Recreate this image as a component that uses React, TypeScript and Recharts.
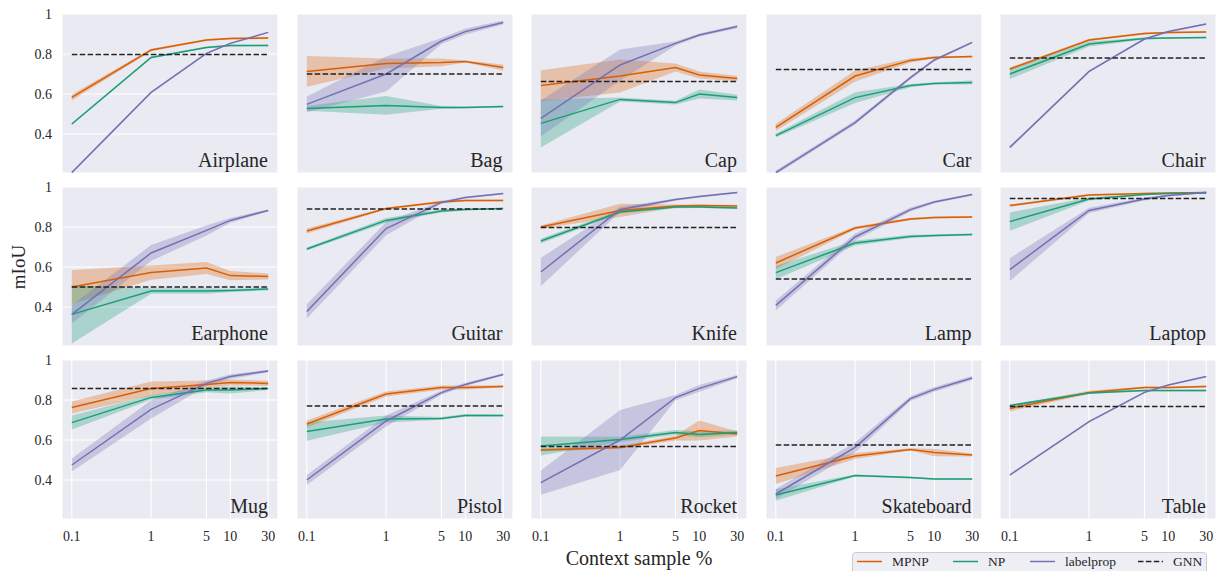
import React from "react";
import { ComposedChart, Line, Area, XAxis, YAxis, CartesianGrid } from "recharts";

const FONT = "'Liberation Serif', 'DejaVu Serif', serif";
const TEXT = "#262626";

const xs = [0.1, 1, 5, 10, 30];
const yTicks = [0.4, 0.6, 0.8, 1];

const categories = [
  "Airplane", "Bag", "Cap", "Car", "Chair",
  "Earphone", "Guitar", "Knife", "Lamp", "Laptop",
  "Mug", "Pistol", "Rocket", "Skateboard", "Table",
];

// mean mIoU per category at each context sample %
const mpnpMean = [
  [0.583, 0.82, 0.87, 0.878, 0.88],
  [0.713, 0.753, 0.758, 0.763, 0.733],
  [0.642, 0.69, 0.732, 0.695, 0.677],
  [0.433, 0.69, 0.768, 0.783, 0.787],
  [0.725, 0.87, 0.902, 0.907, 0.91],
  [0.5, 0.572, 0.595, 0.557, 0.553],
  [0.78, 0.892, 0.925, 0.932, 0.933],
  [0.8, 0.883, 0.905, 0.907, 0.905],
  [0.62, 0.795, 0.84, 0.847, 0.85],
  [0.907, 0.96, 0.968, 0.97, 0.972],
  [0.762, 0.857, 0.878, 0.888, 0.883],
  [0.68, 0.83, 0.862, 0.862, 0.868],
  [0.55, 0.563, 0.61, 0.647, 0.63],
  [0.42, 0.52, 0.553, 0.537, 0.525],
  [0.758, 0.838, 0.862, 0.862, 0.868],
];
const mpnpErr = [
  [0.015, 0.006, 0.005, 0.005, 0.005],
  [0.077, 0.025, 0.019, 0.005, 0.015],
  [0.077, 0.083, 0.02, 0.017, 0.013],
  [0.018, 0.027, 0.011, 0.006, 0.004],
  [0.008, 0.006, 0.005, 0.004, 0.004],
  [0.085, 0.036, 0.03, 0.023, 0.015],
  [0.012, 0.005, 0.006, 0.004, 0.004],
  [0.008, 0.033, 0.008, 0.006, 0.005],
  [0.03, 0.008, 0.006, 0.005, 0.005],
  [0.006, 0.005, 0.003, 0.003, 0.003],
  [0.03, 0.035, 0.02, 0.015, 0.013],
  [0.018, 0.013, 0.011, 0.01, 0.006],
  [0.008, 0.007, 0.012, 0.05, 0.012],
  [0.04, 0.015, 0.006, 0.018, 0.008],
  [0.015, 0.008, 0.005, 0.004, 0.004],
];

const npMean = [
  [0.45, 0.783, 0.833, 0.842, 0.843],
  [0.528, 0.543, 0.533, 0.533, 0.537],
  [0.453, 0.573, 0.557, 0.6, 0.582],
  [0.392, 0.582, 0.642, 0.653, 0.658],
  [0.7, 0.85, 0.877, 0.88, 0.882],
  [0.363, 0.48, 0.48, 0.483, 0.49],
  [0.69, 0.833, 0.88, 0.888, 0.892],
  [0.73, 0.875, 0.9, 0.9, 0.895],
  [0.572, 0.72, 0.753, 0.757, 0.763],
  [0.827, 0.94, 0.963, 0.967, 0.97],
  [0.687, 0.813, 0.85, 0.85, 0.857],
  [0.642, 0.705, 0.708, 0.723, 0.722],
  [0.57, 0.603, 0.638, 0.628, 0.638],
  [0.325, 0.422, 0.412, 0.405, 0.405],
  [0.772, 0.835, 0.847, 0.847, 0.847],
];
const npErr = [
  [0.005, 0.005, 0.004, 0.004, 0.004],
  [0.012, 0.047, 0.007, 0.004, 0.004],
  [0.12, 0.01, 0.009, 0.022, 0.014],
  [0.01, 0.027, 0.008, 0.006, 0.01],
  [0.025, 0.012, 0.005, 0.004, 0.004],
  [0.146, 0.014, 0.014, 0.008, 0.007],
  [0.008, 0.012, 0.007, 0.005, 0.004],
  [0.012, 0.008, 0.006, 0.005, 0.005],
  [0.033, 0.013, 0.008, 0.006, 0.005],
  [0.046, 0.007, 0.004, 0.003, 0.003],
  [0.035, 0.012, 0.011, 0.018, 0.007],
  [0.046, 0.017, 0.007, 0.007, 0.006],
  [0.048, 0.013, 0.012, 0.014, 0.011],
  [0.029, 0.005, 0.004, 0.004, 0.004],
  [0.007, 0.005, 0.004, 0.004, 0.004],
];

const lpMean = [
  [0.207, 0.608, 0.803, 0.853, 0.908],
  [0.548, 0.7, 0.865, 0.912, 0.958],
  [0.478, 0.745, 0.853, 0.895, 0.937],
  [0.207, 0.457, 0.682, 0.77, 0.858],
  [0.333, 0.713, 0.875, 0.912, 0.95],
  [0.363, 0.67, 0.783, 0.833, 0.883],
  [0.378, 0.792, 0.923, 0.947, 0.967],
  [0.575, 0.888, 0.937, 0.953, 0.972],
  [0.408, 0.75, 0.887, 0.925, 0.962],
  [0.587, 0.883, 0.94, 0.957, 0.973],
  [0.475, 0.753, 0.883, 0.917, 0.945],
  [0.4, 0.695, 0.837, 0.878, 0.928],
  [0.387, 0.6, 0.812, 0.858, 0.917],
  [0.33, 0.563, 0.807, 0.853, 0.91],
  [0.425, 0.692, 0.838, 0.875, 0.917],
];
const lpErr = [
  [0.004, 0.004, 0.004, 0.004, 0.003],
  [0.04, 0.087, 0.015, 0.015, 0.01],
  [0.09, 0.078, 0.01, 0.008, 0.008],
  [0.01, 0.01, 0.008, 0.006, 0.005],
  [0.008, 0.005, 0.004, 0.004, 0.004],
  [0.046, 0.04, 0.025, 0.012, 0.005],
  [0.036, 0.033, 0.007, 0.005, 0.004],
  [0.071, 0.013, 0.006, 0.005, 0.004],
  [0.025, 0.017, 0.01, 0.006, 0.005],
  [0.057, 0.013, 0.007, 0.005, 0.004],
  [0.032, 0.046, 0.013, 0.012, 0.006],
  [0.025, 0.027, 0.011, 0.008, 0.006],
  [0.061, 0.15, 0.013, 0.017, 0.008],
  [0.025, 0.025, 0.012, 0.012, 0.01],
  [0.005, 0.004, 0.004, 0.004, 0.004],
];

const gnn = [0.797, 0.7, 0.662, 0.722, 0.78, 0.5, 0.89, 0.797, 0.54, 0.943, 0.857, 0.77, 0.567, 0.575, 0.768];

const C_MPNP = "#d95f02";
const C_NP = "#1b9e77";
const C_LP = "#7570b3";
const C_GNN = "#222222";

// layout
const PLOT_W = 216;
const PLOT_H = 159;
const colLeft = (c: number) => 62 + c * 234.5;
const rowTop = (r: number) => 14 + r * 173;

function Panel({ idx }: { idx: number }) {
  const col = idx % 5;
  const row = Math.floor(idx / 5);
  const yW = col === 0 ? 62 : 0;
  const xH = row === 2 ? 30 : 0;
  const data = xs.map((x, i) => ({
    x,
    mpnp: mpnpMean[idx][i],
    mpnpBand: [mpnpMean[idx][i] - mpnpErr[idx][i], mpnpMean[idx][i] + mpnpErr[idx][i]],
    np: npMean[idx][i],
    npBand: [npMean[idx][i] - npErr[idx][i], npMean[idx][i] + npErr[idx][i]],
    lp: lpMean[idx][i],
    lpBand: [lpMean[idx][i] - lpErr[idx][i], lpMean[idx][i] + lpErr[idx][i]],
    gnn: gnn[idx],
  }));

  return (
    <div style={{ position: "absolute", left: colLeft(col) - yW, top: rowTop(row) - 10 }}>
      <ComposedChart
        width={yW + PLOT_W + 6}
        height={10 + PLOT_H + xH}
        data={data}
        margin={{ top: 10, right: 6, bottom: 0, left: 0 }}
      >
        <CartesianGrid fill="#eaeaf2" stroke="#ffffff" strokeWidth={1.1} />
        <XAxis
          dataKey="x"
          type="number"
          scale="log"
          domain={[0.0752, 39.9]}
          allowDataOverflow
          ticks={xs}
          interval={0}
          height={xH}
          tick={row === 2 ? { fill: TEXT, fontSize: 14, fontFamily: FONT } : false}
          tickFormatter={(v: number) => String(v)}
          axisLine={false}
          tickLine={false}
          tickSize={0}
          tickMargin={12}
        />
        <YAxis
          type="number"
          domain={[0.205, 1]}
          allowDataOverflow
          ticks={yTicks}
          interval={0}
          width={yW}
          tick={col === 0 ? { fill: TEXT, fontSize: 14, fontFamily: FONT } : false}
          tickFormatter={(v: number) => (v === 1 ? "1" : v.toFixed(1))}
          axisLine={false}
          tickLine={false}
          tickSize={0}
          tickMargin={10}
        />
        <Area dataKey="mpnpBand" stroke="none" fill={C_MPNP} fillOpacity={0.3} isAnimationActive={false} activeDot={false} />
        <Area dataKey="npBand" stroke="none" fill={C_NP} fillOpacity={0.3} isAnimationActive={false} activeDot={false} />
        <Area dataKey="lpBand" stroke="none" fill={C_LP} fillOpacity={0.3} isAnimationActive={false} activeDot={false} />
        <Line dataKey="mpnp" stroke={C_MPNP} strokeWidth={1.5} dot={false} activeDot={false} isAnimationActive={false} />
        <Line dataKey="np" stroke={C_NP} strokeWidth={1.5} dot={false} activeDot={false} isAnimationActive={false} />
        <Line dataKey="lp" stroke={C_LP} strokeWidth={1.5} dot={false} activeDot={false} isAnimationActive={false} />
        <Line dataKey="gnn" stroke={C_GNN} strokeWidth={1.5} strokeDasharray="5.5 2.4" dot={false} activeDot={false} isAnimationActive={false} />
      </ComposedChart>
    </div>
  );
}

const legendItems = [
  { label: "MPNP", color: C_MPNP, x: 857, dash: undefined },
  { label: "NP", color: C_NP, x: 953, dash: undefined },
  { label: "labelprop", color: C_LP, x: 1030, dash: undefined },
  { label: "GNN", color: C_GNN, x: 1138, dash: "5.5 2.4" },
];

export default function App() {
  return (
    <div style={{ position: "absolute", left: 0, top: 0, width: 1225, height: 571, background: "#fff", fontFamily: FONT }}>
      {categories.map((_, i) => (
        <Panel key={i} idx={i} />
      ))}
      <svg width={1225} height={571} style={{ position: "absolute", left: 0, top: 0, pointerEvents: "none" }}>
        {categories.map((name, i) => {
          const col = i % 5;
          const row = Math.floor(i / 5);
          return (
            <text
              key={name}
              x={colLeft(col) + PLOT_W - 10}
              y={rowTop(row) + PLOT_H - 6}
              textAnchor="end"
              fontSize={20}
              fontFamily={FONT}
              fill={TEXT}
            >
              {name}
            </text>
          );
        })}
        <text x={25} y={267} transform="rotate(-90 25 267)" textAnchor="middle" fontSize={19} fontFamily={FONT} fill={TEXT}>
          mIoU
        </text>
        <text x={639} y={565} textAnchor="middle" fontSize={20} fontFamily={FONT} fill={TEXT}>
          Context sample %
        </text>
        <rect x={852.5} y={552.5} width={354} height={30} rx={3} fill="#eeeef5" stroke="#cccccc" />
        {legendItems.map((it) => (
          <g key={it.label}>
            <line x1={it.x} x2={it.x + 25} y1={561.5} y2={561.5} stroke={it.color} strokeWidth={1.5} strokeDasharray={it.dash} />
            <text x={it.x + 35} y={566} fontSize={13.5} fontFamily={FONT} fill={TEXT}>
              {it.label}
            </text>
          </g>
        ))}
      </svg>
    </div>
  );
}
